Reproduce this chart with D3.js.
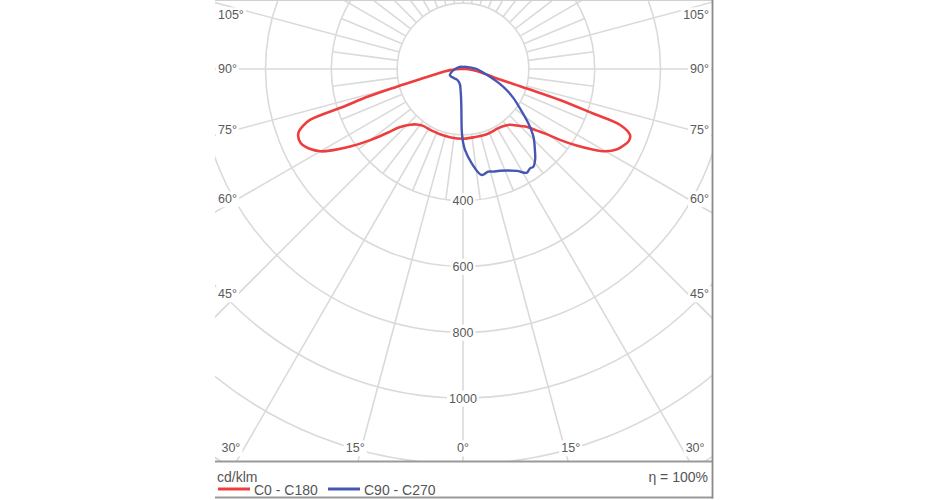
<!DOCTYPE html>
<html><head><meta charset="utf-8">
<script src="https://cdn.jsdelivr.net/npm/d3@7"></script>
<style>
body{margin:0;background:#fff;}
svg{display:block;font-family:"Liberation Sans",Arial,sans-serif;}
</style>
</head><body>
<svg id="c" width="930" height="500"></svg>
<script>
// ---------------- data ----------------
const ringValues = [200, 400, 600, 800, 1000, 1200, 1400];
const ringLabels = [400, 600, 800, 1000];
const sideAngleLabels = [45, 60, 75, 90, 105];
const bottomAngleLabels = [0, 15, 30];
const unitLabel = "cd/klm";
const efficiencyLabel = "η = 100%";
const seriesNames = ["C0 - C180", "C90 - C270"];

// C0 - C180 (red): gamma from nadir (deg) and intensity (cd/klm)
const redC180Angles = [0,10,20,30,35,40,43.4,47.5,49.9,52.5,55.5,58,60,62.5,65.6,68.7,70.5,71.6,72.5,73.8,75,77.5,80,82.5,85,87.5,90];
const redC180Values = [212,211,210,210,211,220,233,262,302,355,416,465,500,525,542,537,515,490,381,300,208,110,75,55,40,22,8];
const redC0Angles   = [10,20,30,35,40,45,48,50,52,54,56,58,60,62.5,65,66.5,68.4,70.4,71.1,72.3,73.05,75.1,77.5,80,85,90];
const redC0Values   = [210,211,209,212,221,245,263,290,320,369,416,460,500,528,543,549,546,507,418,309,203,94,68,50,25,8];

// C90 - C270 (blue)
const blueC270Angles = [180,150,120,90,76.6,65.2,58,45,31.5,20,10.6,7,4.5,2.5,1.6,1.1,0.6,0];
const blueC270Values = [6,8,12,24,35,44,43,39,37,40,49,62,80,115,160,190,206,222];
const blueC90Angles  = [1.4,5.3,10,13.8,16.4,20,27.8,31.6,34,35.7,38.5,41.6,46.1,50.3,55.4,60,64.3,69,74.1,80,85,90,100,120,150];
const blueC90Values  = [246,288,327,321,325,329,350,370,364,366,352,329,297,258,210,177,147,115,85,62,50,42,25,12,8];

// ---------------- layout ----------------
const W = 930, H = 500;
const cx = 463, cy = 69;
const plot = {x0: 215, y0: 0, x1: 712, y1: 461};
const svg = d3.select("#c");
const r = d3.scaleLinear().domain([0, 1200]).range([0, 395]);
const rad = d3.scaleLinear().domain([0, 180]).range([0, Math.PI]);
const gridColor = "#dadada";
const textColor = "#5a5a5a";

svg.append("defs").append("clipPath").attr("id", "clip")
  .append("rect").attr("x", plot.x0).attr("y", plot.y0)
  .attr("width", plot.x1 - plot.x0).attr("height", plot.y1 - plot.y0);

const g = svg.append("g").attr("clip-path", "url(#clip)");
const grid = g.append("g");

// rings
grid.selectAll("circle").data(ringValues).join("circle")
  .attr("cx", cx).attr("cy", cy).attr("r", d => r(d))
  .attr("fill", "none").attr("stroke", gridColor).attr("stroke-width", 1.6);

// spokes (gamma measured from nadir, full circle)
function pt(gammaDeg, radius) {
  const a = rad(gammaDeg);
  return [cx + radius * Math.sin(a), cy + radius * Math.cos(a)];
}
const majorSpokes = d3.range(0, 360, 15);
const minorSpokes = d3.range(7.5, 360, 15);
grid.selectAll("line.major").data(majorSpokes).join("line").attr("class", "major")
  .attr("x1", d => pt(d, r(200))[0]).attr("y1", d => pt(d, r(200))[1])
  .attr("x2", d => pt(d, 800)[0]).attr("y2", d => pt(d, 800)[1])
  .attr("stroke", gridColor).attr("stroke-width", 1.6);
grid.selectAll("line.minor").data(minorSpokes).join("line").attr("class", "minor")
  .attr("x1", d => pt(d, r(200))[0]).attr("y1", d => pt(d, r(200))[1])
  .attr("x2", d => pt(d, r(400))[0]).attr("y2", d => pt(d, r(400))[1])
  .attr("stroke", gridColor).attr("stroke-width", 1.6);

// curves
function toRadial(leftAngles, leftValues, rightAngles, rightValues) {
  const pts = [];
  leftAngles.forEach((a, i) => pts.push({a: Math.PI + rad(a), v: leftValues[i]}));
  rightAngles.forEach((a, i) => pts.push({a: Math.PI - rad(a), v: rightValues[i]}));
  return pts;
}
const radialLine = d3.lineRadial().angle(d => d.a).radius(d => r(d.v))
  .curve(d3.curveCatmullRomClosed.alpha(0.5));

const redPts = toRadial(redC180Angles.slice().reverse(), redC180Values.slice().reverse(), redC0Angles, redC0Values);
const bluePts = toRadial(blueC270Angles, blueC270Values, blueC90Angles, blueC90Values);

const curves = g.append("g").attr("transform", `translate(${cx},${cy})`);
curves.append("path").attr("d", radialLine(redPts))
  .attr("fill", "none").attr("stroke", "#ee3d3d").attr("stroke-width", 2.6).attr("stroke-linejoin", "round");
curves.append("path").attr("d", radialLine(bluePts))
  .attr("fill", "none").attr("stroke", "#4657b3").attr("stroke-width", 2.4).attr("stroke-linejoin", "round");

// labels with white backgrounds
const labels = svg.append("g").attr("font-size", 12.5).attr("fill", textColor);
function addLabel(x, y, text, anchor) {
  const grp = labels.append("g");
  const t = grp.append("text").attr("x", x).attr("y", y).attr("dy", "0.35em")
    .attr("text-anchor", anchor).text(text);
  const b = t.node().getBBox();
  grp.insert("rect", "text").attr("x", b.x - 2).attr("y", b.y - 1)
    .attr("width", b.width + 4).attr("height", b.height + 2).attr("fill", "#fff");
}
ringLabels.forEach(v => addLabel(cx, cy + r(v), String(v), "middle"));
sideAngleLabels.forEach(a => {
  const t = Math.tan(rad(a));
  let y = cy + 225 / t;
  if (a === 90) y = cy;
  y = Math.max(y, 15);
  addLabel(218, y, a + "°", "start");
  addLabel(709, y, a + "°", "end");
});
bottomAngleLabels.forEach(a => {
  const dx = 402 * Math.tan(rad(a));
  addLabel(cx - dx, 448, a + "°", "middle");
  if (a !== 0) addLabel(cx + dx, 448, a + "°", "middle");
});

// frame
const frame = svg.append("g").attr("fill", "none");
frame.append("line").attr("x1", plot.x0).attr("x2", plot.x1 + 1).attr("y1", 0.5).attr("y2", 0.5)
  .attr("stroke", "#d0d0d0").attr("stroke-width", 1);
frame.append("line").attr("x1", plot.x0).attr("x2", plot.x1 + 1).attr("y1", 461.5).attr("y2", 461.5)
  .attr("stroke", "#9a9a9a").attr("stroke-width", 1.8);
frame.append("line").attr("x1", plot.x0).attr("x2", plot.x1 + 1).attr("y1", 497.5).attr("y2", 497.5)
  .attr("stroke", "#9a9a9a").attr("stroke-width", 1.8);
frame.append("line").attr("x1", plot.x1 + 0.5).attr("x2", plot.x1 + 0.5).attr("y1", 0).attr("y2", 498.5)
  .attr("stroke", "#8a8a8a").attr("stroke-width", 1.8);

// legend
const legend = svg.append("g").attr("font-size", 14).attr("fill", "#555");
legend.append("text").attr("x", 217).attr("y", 482).text(unitLabel);
legend.append("text").attr("x", 708).attr("y", 482).attr("text-anchor", "end").text(efficiencyLabel);
const legendColors = ["#ee3d3d", "#4657b3"];
const legendX = [218, 328];
seriesNames.forEach((name, i) => {
  legend.append("line").attr("x1", legendX[i]).attr("x2", legendX[i] + 32)
    .attr("y1", 489).attr("y2", 489).attr("stroke", legendColors[i]).attr("stroke-width", 3);
  legend.append("text").attr("x", legendX[i] + 36).attr("y", 495).text(name);
});
</script>
</body></html>
